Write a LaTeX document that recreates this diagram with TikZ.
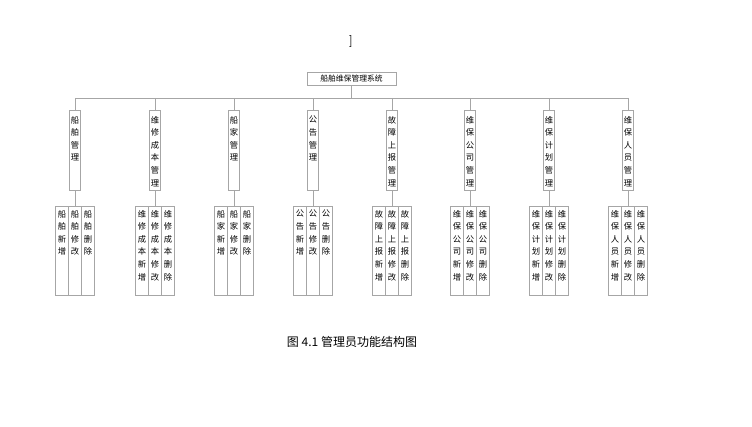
\documentclass[tikz,border=0pt]{standalone}
\usepackage{fontspec}
\newfontfamily\cjk{Noto Sans CJK SC}
\begin{document}
\begin{tikzpicture}[x=1pt,y=-1pt,
  ln/.style={draw=gray!70,line width=0.8pt},
  bx/.style={draw=gray!70,line width=0.8pt,fill=white,inner sep=0pt},
  tx/.style={inner sep=0pt,anchor=north,font=\cjk\fontsize{8.3}{12.6}\selectfont,align=center},
  mid/.style={bx,minimum width=11pt,minimum height=80pt,anchor=north},
  leaf/.style={bx,minimum width=13pt,minimum height=89pt,anchor=north}]
\useasboundingbox (0,0) rectangle (752,427);
\node[font=\bfseries\fontsize{12}{12}\selectfont] (br) at (351,42) {]};
\node[bx,minimum width=89pt,minimum height=13pt,font=\cjk\fontsize{7.8}{9}\selectfont] (top) at (351.5,78.5) {船舶维保管理系统};
\coordinate (hl) at (75,98); \coordinate (hr) at (628,98);
\coordinate (hm) at (351.5,98);
\draw[ln] (top.south) -- (hm);
\draw[ln] (hl) -- (hr);
\def\cols{75/{船\\舶\\管\\理}/{船\\舶\\新\\增}/{船\\舶\\修\\改}/{船\\舶\\删\\除},
155/{维\\修\\成\\本\\管\\理}/{维\\修\\成\\本\\新\\增}/{维\\修\\成\\本\\修\\改}/{维\\修\\成\\本\\删\\除},
234/{船\\家\\管\\理}/{船\\家\\新\\增}/{船\\家\\修\\改}/{船\\家\\删\\除},
313/{公\\告\\管\\理}/{公\\告\\新\\增}/{公\\告\\修\\改}/{公\\告\\删\\除},
392/{故\\障\\上\\报\\管\\理}/{故\\障\\上\\报\\新\\增}/{故\\障\\上\\报\\修\\改}/{故\\障\\上\\报\\删\\除},
470/{维\\保\\公\\司\\管\\理}/{维\\保\\公\\司\\新\\增}/{维\\保\\公\\司\\修\\改}/{维\\保\\公\\司\\删\\除},
549/{维\\保\\计\\划\\管\\理}/{维\\保\\计\\划\\新\\增}/{维\\保\\计\\划\\修\\改}/{维\\保\\计\\划\\删\\除},
628/{维\\保\\人\\员\\管\\理}/{维\\保\\人\\员\\新\\增}/{维\\保\\人\\员\\修\\改}/{维\\保\\人\\员\\删\\除}}
\foreach \x/\m/\a/\b/\c [count=\i] in \cols {
  \coordinate (t\i) at (\x,98);
  \node[mid] (m\i) at (\x,110) {};
  \node[tx] (mt\i) at (\x,116) {\m};
  \node[leaf] (lb\i) at (\x,206) {};
  \node[leaf] (la\i) at (\x-13,206) {};
  \node[leaf] (lc\i) at (\x+13,206) {};
  \node[tx] (lat\i) at (\x-13,210) {\a};
  \node[tx] (lbt\i) at (\x,210) {\b};
  \node[tx] (lct\i) at (\x+13,210) {\c};
  \draw[ln] (t\i) -- (m\i.north);
  \draw[ln] (m\i.south) -- (lb\i.north);
}
\node[font=\cjk\fontsize{12}{14}\selectfont] (cap) at (352,342) {图 4.1 管理员功能结构图};
\end{tikzpicture}
\end{document}
